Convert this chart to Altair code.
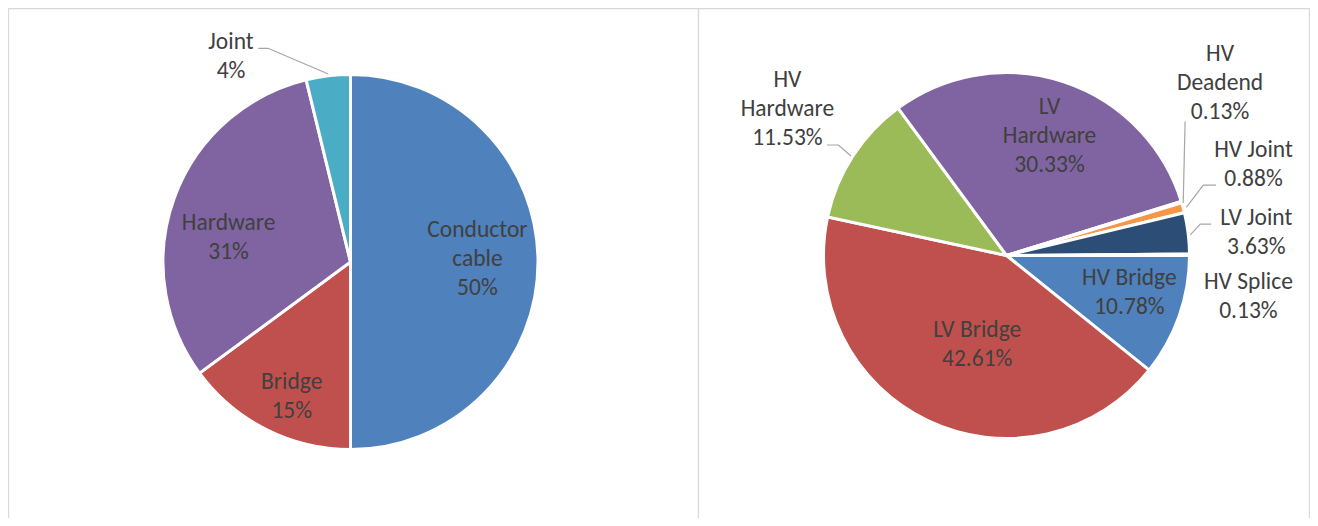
import math
import altair as alt
import pandas as pd

# ---------------- data ----------------
LEFT_CATS = ["Conductor cable", "Bridge", "Hardware", "Joint"]
LEFT_VALUES = [50.0, 14.9, 31.3, 3.8]
LEFT_PCT = ["50%", "15%", "31%", "4%"]
LEFT_COLORS = ["#4F81BD", "#C0504D", "#8064A2", "#4BACC6"]

RIGHT_CATS = ["HV Bridge", "LV Bridge", "HV Hardware", "LV Hardware",
              "HV Deadend", "HV Joint", "LV Joint", "HV Splice"]
RIGHT_VALUES = [10.78, 42.61, 11.53, 30.33, 0.13, 0.88, 3.63, 0.13]
RIGHT_PCT = ["10.78%", "42.61%", "11.53%", "30.33%", "0.13%", "0.88%", "3.63%", "0.13%"]
RIGHT_COLORS = ["#4F81BD", "#C0504D", "#9BBB59", "#8064A2",
                "#4BACC6", "#F79646", "#2C4D75", "#772C2A"]

# wrapped display names (as the labels appear)
WRAPPED = {
    "Conductor cable": "Conductor\ncable",
    "HV Hardware": "HV\nHardware",
    "LV Hardware": "LV\nHardware",
    "HV Deadend": "HV\nDeadend",
}

# ---------------- layout (page pixels) ----------------
M = 8  # page margin
W, H = 1302, 510
LEFT_CENTER = (350.5, 262.0)
LEFT_R = 187.5
RIGHT_CENTER = (1006.5, 255.5)
RIGHT_R = 183.0
LINE_H = 29

# centre of each label block
LABEL_POS = {
    "Conductor cable": (477.4, 259.0),
    "Bridge": (291.7, 396.8),
    "Hardware": (228.6, 237.4),
    "Joint": (231.0, 56.5),
    "HV Bridge": (1129.4, 292.7),
    "LV Bridge": (977.2, 344.7),
    "HV Hardware": (787.4, 109.4),
    "LV Hardware": (1049.5, 135.9),
    "HV Deadend": (1220.0, 83.0),
    "HV Joint": (1253.5, 164.4),
    "LV Joint": (1256.3, 232.7),
    "HV Splice": (1248.4, 296.6),
}

LEADERS = {
    "Joint": [(258.3, 48.3), (268.0, 48.3), (328.3, 74.0)],
    "HV Hardware": [(826.9, 145.0), (838.4, 145.0), (851.0, 156.0)],
    "HV Deadend": [(1185.1, 121.5), (1183.2, 203.0)],
    "HV Joint": [(1216.0, 185.2), (1203.3, 185.2), (1186.3, 207.3)],
    "LV Joint": [(1211.2, 224.1), (1200.2, 224.1), (1190.3, 234.9)],
}

# panel frame lines (x0, y0, x1, y1) in page px
FRAME = [
    (8.5, 8.5, 1309.5, 8.5),      # top
    (8.5, 8.5, 8.5, 518.0),       # left
    (698.5, 8.5, 698.5, 518.0),   # separator
    (1309.5, 8.5, 1309.5, 518.0), # right
]

FONT = "Carlito, Calibri, Lato, sans-serif"
TEXT_COLOR = "#404040"

# ---------------- frames ----------------
left_df = pd.DataFrame({"cat": LEFT_CATS, "value": LEFT_VALUES,
                        "ord": list(range(len(LEFT_CATS)))})
right_df = pd.DataFrame({"cat": RIGHT_CATS, "value": RIGHT_VALUES,
                         "ord": list(range(len(RIGHT_CATS)))})

lab_rows = []
for cats, pcts in ((LEFT_CATS, LEFT_PCT), (RIGHT_CATS, RIGHT_PCT)):
    for c, p in zip(cats, pcts):
        txt = WRAPPED.get(c, c) + "\n" + p
        n = txt.count("\n") + 1
        x, y = LABEL_POS[c]
        lab_rows.append({"text": txt, "x": x - M, "y": y - M - (n - 1) * LINE_H / 2})
labels_df = pd.DataFrame(lab_rows)

lead_rows = []
for k, pts in LEADERS.items():
    for i, (x, y) in enumerate(pts):
        lead_rows.append({"id": k, "i": i, "x": x - M, "y": y - M})
leaders_df = pd.DataFrame(lead_rows)

frame_df = pd.DataFrame([{"x0": a - M, "y0": b - M, "x1": c - M, "y1": d - M}
                         for a, b, c, d in FRAME])

# ---------------- layers ----------------
frame = alt.Chart(frame_df).mark_rule(color="#d9d9d9", strokeWidth=1.3).encode(
    x=alt.X("x0:Q", scale=None), x2="x1:Q",
    y=alt.Y("y0:Q", scale=None), y2="y1:Q",
)

left_pie = alt.Chart(left_df).mark_arc(radius=LEFT_R, stroke="white", strokeWidth=3).encode(
    theta=alt.Theta("value:Q", stack=True, scale=alt.Scale(range=[0, 2 * math.pi])),
    order=alt.Order("ord:Q"),
    color=alt.Color("cat:N", scale=alt.Scale(domain=LEFT_CATS, range=LEFT_COLORS), legend=None),
    x=alt.value(LEFT_CENTER[0] - M),
    y=alt.value(LEFT_CENTER[1] - M),
)

right_pie = alt.Chart(right_df).mark_arc(radius=RIGHT_R, stroke="white", strokeWidth=3).encode(
    theta=alt.Theta("value:Q", stack=True,
                    scale=alt.Scale(range=[math.pi / 2, math.pi / 2 + 2 * math.pi])),
    order=alt.Order("ord:Q"),
    color=alt.Color("cat:N", scale=alt.Scale(domain=RIGHT_CATS, range=RIGHT_COLORS), legend=None),
    x=alt.value(RIGHT_CENTER[0] - M),
    y=alt.value(RIGHT_CENTER[1] - M),
)

leaders = alt.Chart(leaders_df).mark_line(color="#a6a6a6", strokeWidth=1.2).encode(
    x=alt.X("x:Q", scale=None),
    y=alt.Y("y:Q", scale=None),
    detail="id:N",
    order="i:Q",
)

labels = alt.Chart(labels_df).mark_text(
    font=FONT, fontSize=23.5, color=TEXT_COLOR, lineBreak="\n", lineHeight=LINE_H,
    align="center", baseline="middle",
).encode(
    x=alt.X("x:Q", scale=None),
    y=alt.Y("y:Q", scale=None),
    text="text:N",
)

chart = alt.layer(frame, left_pie, right_pie, leaders, labels).resolve_scale(
    theta="independent", color="independent"
).properties(
    width=W, height=H, autosize=alt.AutoSizeParams(type="none"), padding=0
).configure_view(stroke=None).configure(background="white")

chart.save("out.html", embed_options={"renderer": "svg", "actions": False})
